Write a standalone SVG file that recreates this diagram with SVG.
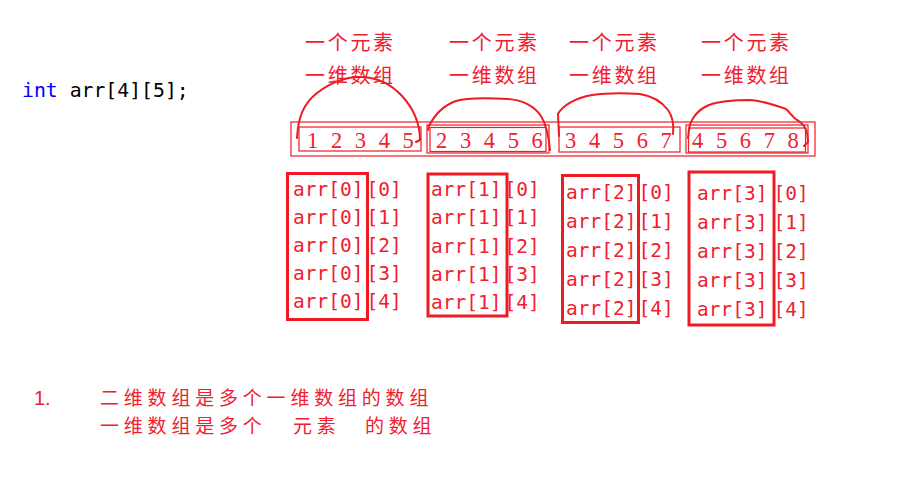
<svg xmlns="http://www.w3.org/2000/svg" width="907" height="498" viewBox="0 0 907 498">
<style>
.cjk{font-family:"Noto Sans CJK SC","Noto Sans",sans-serif;font-size:20px;fill:#f02030;}
.top{letter-spacing:2.7px;}
.bot{font-size:19px;letter-spacing:4.8px;}
.dig{font-family:"Liberation Serif",serif;font-size:22.5px;fill:#f02030;letter-spacing:3.5px;}
.code{font-family:"DejaVu Sans Mono",monospace;font-size:19.5px;fill:#f02030;}
.thin{fill:none;stroke:#ed1c24;stroke-width:1.2;}
.thick{fill:none;stroke:#ed1c24;stroke-width:3;}
.arc{fill:none;stroke:#ed1c24;stroke-width:2;stroke-linecap:round;stroke-linejoin:round;}
</style>
<rect width="907" height="498" fill="#ffffff"/>

<g id="decl">
<text x="22" y="97" style="font-family:'DejaVu Sans Mono',monospace;font-size:19.8px;"><tspan fill="#0000ff">int</tspan><tspan fill="#000000"> arr[4][5];</tspan></text>
</g>

<g id="labels-top">
<text class="cjk top" x="305" y="50">一个元素</text>
<text class="cjk top" x="449" y="50">一个元素</text>
<text class="cjk top" x="569" y="50">一个元素</text>
<text class="cjk top" x="701" y="50">一个元素</text>
<text class="cjk top" x="305" y="83">一维数组</text>
<text class="cjk top" x="449" y="83">一维数组</text>
<text class="cjk top" x="569" y="83">一维数组</text>
<text class="cjk top" x="701" y="83">一维数组</text>
</g>

<g id="array-outer">
<rect class="thin" x="291" y="122" width="524" height="34"/>
</g>
<g id="row0">
<rect class="thin" x="299" y="127" width="122" height="24"/>
<text class="dig" x="307" y="147.5">1 2 3 4 5</text>
</g>
<g id="row1">
<rect class="thin" x="427" y="125" width="122" height="28"/>
<rect class="thin" x="430" y="127.5" width="116" height="24"/>
<text class="dig" x="436" y="147.5">2 3 4 5 6</text>
</g>
<g id="row2">
<rect class="thin" x="559" y="127" width="121" height="25"/>
<text class="dig" x="565" y="147.5">3 4 5 6 7</text>
</g>
<g id="row3">
<rect class="thin" x="686" y="125" width="122" height="28"/>
<rect class="thin" x="688.5" y="128" width="117" height="24"/>
<text class="dig" x="692" y="147.5">4 5 6 7 8</text>
</g>

<g id="connectors">
<path class="arc" d="M297,138 C298,118 303,104 317,93 C330,83 343,77 360,77 C376,77 390,83 402,96 C413,108 420,122 420,140 L416,142"/>
<path class="arc" d="M428,130 L429,126 C434,116 442,106 456,101 C466,98 490,98 508,99 C522,100 534,106 541,116 C547,126 549,138 550,150"/>
<path class="arc" d="M559,136 L558,114 C562,106 575,98 592,95 C606,93 625,93 640,94 C652,96 662,102 668,110 C673,117 674,125 673,134"/>
<path class="arc" d="M688,138 L689,130 C690,120 697,110 709,105 C720,101 735,100 750,100 C762,101 775,105 786,109 C791,113 792,118 800,122 C806,126 808,132 808,142 L804,146"/>
</g>

<g id="col0">
<rect class="thick" x="287.5" y="173.5" width="80" height="146"/>
<text class="code" x="293" y="195.5">arr[0]</text><text class="code" x="366.5" y="195.5">[0]</text>
<text class="code" x="293" y="223.5">arr[0]</text><text class="code" x="366.5" y="223.5">[1]</text>
<text class="code" x="293" y="251.5">arr[0]</text><text class="code" x="366.5" y="251.5">[2]</text>
<text class="code" x="293" y="279.5">arr[0]</text><text class="code" x="366.5" y="279.5">[3]</text>
<text class="code" x="293" y="307.5">arr[0]</text><text class="code" x="366.5" y="307.5">[4]</text>
</g>
<g id="col1">
<rect class="thick" x="428" y="174" width="79" height="142"/>
<text class="code" x="431" y="195.5">arr[1]</text><text class="code" x="504.5" y="195.5">[0]</text>
<text class="code" x="431" y="224">arr[1]</text><text class="code" x="504.5" y="224">[1]</text>
<text class="code" x="431" y="252.5">arr[1]</text><text class="code" x="504.5" y="252.5">[2]</text>
<text class="code" x="431" y="281">arr[1]</text><text class="code" x="504.5" y="281">[3]</text>
<text class="code" x="431" y="309">arr[1]</text><text class="code" x="504.5" y="309">[4]</text>
</g>
<g id="col2">
<rect class="thick" x="562.5" y="175.5" width="76" height="147"/>
<text class="code" x="566" y="199">arr[2]</text><text class="code" x="638.5" y="199">[0]</text>
<text class="code" x="566" y="228">arr[2]</text><text class="code" x="638.5" y="228">[1]</text>
<text class="code" x="566" y="257">arr[2]</text><text class="code" x="638.5" y="257">[2]</text>
<text class="code" x="566" y="286">arr[2]</text><text class="code" x="638.5" y="286">[3]</text>
<text class="code" x="566" y="314.5">arr[2]</text><text class="code" x="638.5" y="314.5">[4]</text>
</g>
<g id="col3">
<rect class="thick" x="689" y="172" width="85" height="153"/>
<text class="code" x="697" y="199.5">arr[3]</text><text class="code" x="773.5" y="199.5">[0]</text>
<text class="code" x="697" y="228.5">arr[3]</text><text class="code" x="773.5" y="228.5">[1]</text>
<text class="code" x="697" y="257.5">arr[3]</text><text class="code" x="773.5" y="257.5">[2]</text>
<text class="code" x="697" y="286.5">arr[3]</text><text class="code" x="773.5" y="286.5">[3]</text>
<text class="code" x="697" y="315.5">arr[3]</text><text class="code" x="773.5" y="315.5">[4]</text>
</g>

<g id="note">
<text x="34" y="405" style="font-family:'Liberation Sans',sans-serif;font-size:20px;fill:#f02030;">1.</text>
<text class="cjk bot" x="100" y="405">二维数组是多个一维数组的数组</text>
<text class="cjk bot" y="433"><tspan x="100">一维数组是多个</tspan><tspan x="293">元素</tspan><tspan x="365">的数组</tspan></text>
</g>
</svg>
